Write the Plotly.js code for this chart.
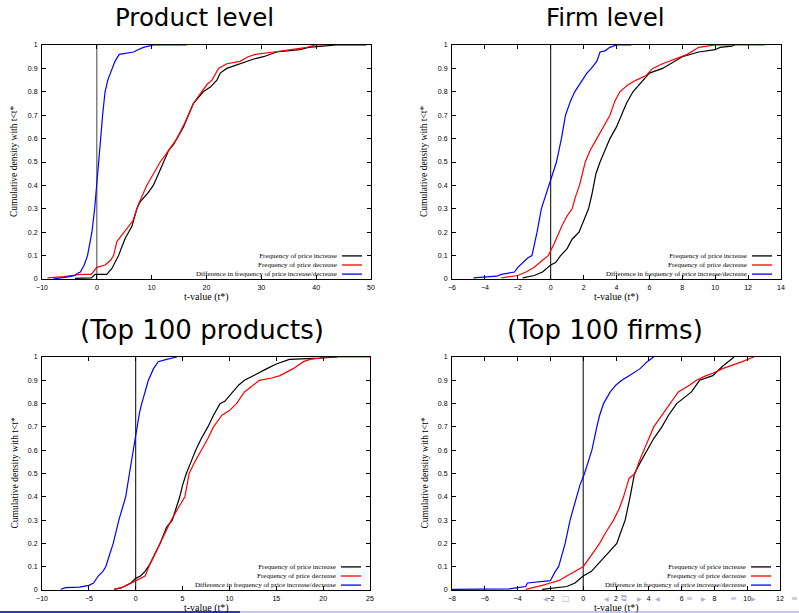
<!DOCTYPE html>
<html>
<head>
<meta charset="utf-8">
<script src="https://cdn.plot.ly/plotly-3.0.1.min.js"></script>
<style>html,body{margin:0;padding:0;background:#fff;}#chart{width:799px;height:613px;}</style>
</head>
<body>
<div id="chart"></div>
<script>
// ---- Data ----
const panelTitles = ["Product level", "Firm level", "(Top 100 products)", "(Top 100 firms)"];
const seriesNames = ["Frequency of price increase", "Frequency of price decrease", "Difference in frequency of price increase/decrease"];
const xTitle = "t-value (t*)";
const yTitle = "Cumulative density with t<t*";

// Panel 1: Product level
const p1IncX = [-4, -1, -0.3, 0, 1.8, 2.75, 3.35, 3.96, 4.6, 5.2, 5.8, 6.4, 7.3, 7.9, 9.4, 10.3, 11.25, 12.2, 13.1, 14.0, 14.6, 15.8, 16.7, 17.6, 19.4, 20.7, 21.9, 22.5, 23.7, 26.1, 28.6, 30.4, 32.8, 37.0, 38.6, 43.7, 49.2];
const p1IncY = [0.003, 0.005, 0.02, 0.02, 0.02, 0.045, 0.075, 0.1, 0.14, 0.175, 0.2, 0.225, 0.3, 0.33, 0.37, 0.4, 0.45, 0.5, 0.55, 0.575, 0.6, 0.65, 0.7, 0.75, 0.8, 0.82, 0.85, 0.88, 0.9, 0.92, 0.94, 0.95, 0.97, 0.98, 0.99, 1.0, 1.0];
const p1DecX = [-9, -6, -3, -1, 0, 1.5, 2.5, 3.05, 3.66, 4.9, 6.6, 7.3, 7.6, 9.1, 10.3, 11.55, 13.1, 14.6, 16.1, 16.7, 17.6, 19.1, 20.05, 21.0, 22.2, 23.7, 26.1, 27.6, 28.9, 32.2, 35.8, 38.3, 39.8, 41.6];
const p1DecY = [0.005, 0.01, 0.02, 0.02, 0.05, 0.06, 0.08, 0.1, 0.16, 0.2, 0.25, 0.3, 0.32, 0.4, 0.45, 0.5, 0.55, 0.6, 0.67, 0.7, 0.75, 0.8, 0.83, 0.85, 0.9, 0.92, 0.93, 0.95, 0.96, 0.97, 0.98, 0.99, 1.0, 1.0];
const p1DifX = [-8, -6, -5, -4, -3.5, -3, -2.3, -1.7, -1.3, -0.9, -0.4, 0, 0.4, 0.7, 1.05, 1.5, 2.0, 2.75, 3.3, 4.1, 5.5, 6.7, 7.5, 8.5, 10.3, 16.4];
const p1DifY = [0, 0.005, 0.01, 0.015, 0.025, 0.03, 0.06, 0.1, 0.15, 0.2, 0.3, 0.4, 0.5, 0.6, 0.7, 0.8, 0.85, 0.9, 0.93, 0.96, 0.965, 0.97, 0.98, 0.99, 1.0, 1.0];

// Panel 2: Firm level
const p2IncX = [-1.7, -1, -0.5, 0, 0.3, 0.6, 1.0, 1.3, 1.72, 2.0, 2.3, 2.5, 2.75, 3.0, 3.3, 3.6, 4.0, 4.3, 4.6, 5.0, 5.6, 6.0, 6.8, 7.5, 8.0, 9.0, 10.0, 10.3, 11.0, 11.2];
const p2IncY = [0.005, 0.015, 0.03, 0.06, 0.07, 0.1, 0.13, 0.17, 0.2, 0.25, 0.3, 0.36, 0.45, 0.5, 0.55, 0.6, 0.65, 0.7, 0.75, 0.8, 0.85, 0.88, 0.9, 0.93, 0.95, 0.97, 0.98, 0.99, 0.995, 1.0];
const p2DecX = [-3, -2.5, -2, -1.5, -1, -0.5, -0.15, 0.2, 0.5, 0.7, 1.0, 1.3, 1.5, 1.75, 2.1, 2.4, 2.8, 3.2, 3.6, 3.9, 4.2, 4.7, 5.2, 5.8, 6.2, 6.8, 7.5, 8.3, 9.0, 10.0, 13.0];
const p2DecY = [0.005, 0.01, 0.015, 0.03, 0.05, 0.08, 0.1, 0.15, 0.2, 0.23, 0.27, 0.3, 0.35, 0.4, 0.5, 0.55, 0.6, 0.65, 0.7, 0.76, 0.8, 0.83, 0.85, 0.87, 0.9, 0.92, 0.94, 0.96, 0.99, 1.0, 1.0];
const p2DifX = [-4.7, -4, -3.3, -3, -2.5, -2.2, -2, -1.7, -1.4, -1.14, -0.97, -0.83, -0.57, -0.3, -0.1, 0.1, 0.35, 0.5, 0.65, 0.9, 1.2, 1.46, 1.9, 2.2, 2.47, 2.8, 3.0, 3.3, 3.6, 4.0, 4.9];
const p2DifY = [0.005, 0.007, 0.012, 0.02, 0.025, 0.03, 0.05, 0.07, 0.09, 0.1, 0.15, 0.2, 0.3, 0.36, 0.4, 0.45, 0.5, 0.55, 0.6, 0.7, 0.76, 0.8, 0.85, 0.88, 0.9, 0.93, 0.97, 0.975, 0.99, 1.0, 1.0];

// Panel 3: Top 100 products
const p3IncX = [-2.3, -1.5, -0.5, 0, 0.5, 1.0, 1.5, 2.0, 2.6, 3.3, 3.9, 4.3, 4.7, 5.0, 5.4, 5.9, 6.4, 7.0, 7.7, 8.3, 9.0, 9.5, 10.4, 11.0, 11.6, 12.5, 14.0, 15.0, 16.4, 19.6, 21.5];
const p3IncY = [0.003, 0.01, 0.03, 0.05, 0.06, 0.08, 0.11, 0.15, 0.2, 0.27, 0.3, 0.35, 0.4, 0.45, 0.5, 0.55, 0.6, 0.65, 0.7, 0.75, 0.8, 0.81, 0.85, 0.88, 0.9, 0.92, 0.95, 0.97, 0.99, 0.995, 1.0];
const p3DecX = [-2.3, -1.5, -1, 0, 0.5, 1.0, 1.4, 2.0, 2.6, 3.2, 3.8, 4.5, 5.25, 5.7, 6.3, 7.0, 7.7, 8.3, 9.2, 10.0, 10.75, 11.6, 12.5, 13.2, 14.5, 15.4, 16.8, 17.9, 18.6, 20.7, 25];
const p3DecY = [0.003, 0.01, 0.02, 0.04, 0.05, 0.06, 0.1, 0.15, 0.2, 0.25, 0.3, 0.35, 0.4, 0.5, 0.55, 0.6, 0.65, 0.7, 0.75, 0.77, 0.8, 0.85, 0.88, 0.9, 0.91, 0.92, 0.95, 0.98, 0.99, 1.0, 1.0];
const p3DifX = [-8, -7.5, -6, -5.5, -5, -4.5, -4, -3.5, -3.2, -2.8, -2.4, -1.8, -1.4, -1.07, -0.67, -0.25, 0.1, 0.4, 0.64, 1.0, 1.35, 1.9, 2.4, 3.3, 4.4];
const p3DifY = [0.003, 0.01, 0.012, 0.015, 0.02, 0.03, 0.06, 0.08, 0.1, 0.15, 0.2, 0.3, 0.35, 0.4, 0.5, 0.6, 0.7, 0.76, 0.8, 0.85, 0.9, 0.95, 0.98, 0.99, 1.0];

// Panel 4: Top 100 firms
const p4IncX = [-2.5, -2, -1, -0.5, 0, 0.5, 1.0, 1.5, 2.05, 2.3, 2.56, 2.86, 3.13, 3.5, 3.88, 4.3, 4.8, 5.2, 5.7, 6.2, 6.6, 7.1, 7.9, 8.5, 8.85, 9.2];
const p4IncY = [0.003, 0.008, 0.015, 0.03, 0.06, 0.08, 0.12, 0.16, 0.2, 0.25, 0.3, 0.4, 0.5, 0.55, 0.6, 0.65, 0.7, 0.75, 0.8, 0.83, 0.85, 0.9, 0.92, 0.96, 0.98, 1.0];
const p4DecX = [-3.5, -3, -2.5, -2, -1.5, -1, -0.5, 0, 0.5, 1.0, 1.4, 1.85, 2.2, 2.46, 2.8, 3.17, 3.4, 3.68, 4.0, 4.3, 4.8, 5.3, 5.8, 6.5, 6.9, 7.5, 7.9, 8.5, 9.4, 9.7, 10.4];
const p4DecY = [0.003, 0.01, 0.02, 0.03, 0.04, 0.06, 0.08, 0.1, 0.15, 0.2, 0.25, 0.3, 0.35, 0.4, 0.48, 0.5, 0.55, 0.6, 0.65, 0.7, 0.75, 0.8, 0.85, 0.88, 0.9, 0.92, 0.93, 0.95, 0.97, 0.98, 1.0];
const p4DifX = [-8, -4.5, -4, -3.5, -3.4, -2.5, -2, -1.7, -1.5, -1.3, -1.1, -0.8, -0.6, -0.4, -0.2, 0.08, 0.3, 0.53, 0.83, 1.0, 1.24, 1.65, 2.0, 2.35, 2.8, 3.47, 3.9, 4.3];
const p4DifY = [0.003, 0.005, 0.01, 0.015, 0.03, 0.035, 0.04, 0.08, 0.1, 0.15, 0.2, 0.3, 0.35, 0.4, 0.45, 0.5, 0.55, 0.6, 0.7, 0.75, 0.8, 0.85, 0.88, 0.9, 0.92, 0.95, 0.98, 1.0];

const xRanges = [[-10, 50], [-6, 14], [-10, 25], [-8, 12]];
const xDticks = [10, 2, 5, 2];
const colors = ["#000000", "#ff0000", "#0000ff"];

// ---- Layout helpers (pixel boxes of the four plot areas) ----
const W = 799, H = 613;
const boxes = [
  {l: 42, r: 371, t: 45, b: 279},
  {l: 452, r: 781, t: 45, b: 279},
  {l: 42, r: 370, t: 357, b: 590},
  {l: 452, r: 780, t: 357, b: 590}
];
const titleCenters = [194, 605, 202, 605];
const titleSizes = [24.5, 24.5, 26, 26];
const px = x => x / W;
const py = y => 1 - y / H;

const panels = [
  [[p1IncX, p1IncY], [p1DecX, p1DecY], [p1DifX, p1DifY]],
  [[p2IncX, p2IncY], [p2DecX, p2DecY], [p2DifX, p2DifY]],
  [[p3IncX, p3IncY], [p3DecX, p3DecY], [p3DifX, p3DifY]],
  [[p4IncX, p4IncY], [p4DecX, p4DecY], [p4DifX, p4DifY]]
];

const traces = [];
const layout = {
  width: W, height: H,
  margin: {l: 0, r: 0, t: 0, b: 0},
  paper_bgcolor: "#ffffff", plot_bgcolor: "#ffffff",
  showlegend: false,
  annotations: [], shapes: []
};

const tickFont = {family: "Liberation Sans, Arial, sans-serif", size: 7, color: "#000"};
const serif = "Liberation Serif, Times New Roman, serif";

panels.forEach((pan, i) => {
  const n = i + 1;
  const xa = "x" + (n === 1 ? "" : n), ya = "y" + (n === 1 ? "" : n);
  const bx = boxes[i];
  // vertical line at t = 0
  layout.shapes.push({type: "line", xref: xa, yref: ya, x0: 0, x1: 0, y0: 0, y1: 1,
    line: {color: i === 0 ? "#444" : "#000", width: 1}, layer: "below"});
  pan.forEach((s, k) => {
    traces.push({x: s[0], y: s[1], type: "scatter", mode: "lines", xaxis: xa, yaxis: ya,
      line: {color: colors[k], width: 1.2}, name: seriesNames[k], hoverinfo: "skip"});
  });
  const axCommon = {showline: true, linecolor: "#000", linewidth: 1, mirror: "ticks",
    ticks: "inside", ticklen: 4, tickcolor: "#000", tickwidth: 1, showgrid: false,
    zeroline: false, tickfont: tickFont, fixedrange: true};
  layout["xaxis" + (n === 1 ? "" : n)] = Object.assign({}, axCommon, {
    domain: [px(bx.l), px(bx.r)], range: xRanges[i], dtick: xDticks[i], tick0: 0,
    anchor: ya, ticklabelstandoff: 2});
  layout["yaxis" + (n === 1 ? "" : n)] = Object.assign({}, axCommon, {
    domain: [py(bx.b), py(bx.t)], range: [0, 1], dtick: 0.1, tick0: 0,
    anchor: xa, ticklabelstandoff: 2});

  // panel title
  layout.annotations.push({xref: "paper", yref: "paper", x: px(titleCenters[i]), y: py(bx.t - 27),
    text: panelTitles[i], showarrow: false, xanchor: "center", yanchor: "middle",
    font: {family: "DejaVu Sans, sans-serif", size: titleSizes[i], color: "#000"}});
  // axis titles
  layout.annotations.push({xref: "paper", yref: "paper", x: px((bx.l + bx.r) / 2), y: py(bx.b + 18),
    text: xTitle, showarrow: false, xanchor: "center", yanchor: "middle",
    font: {family: serif, size: 10, color: "#000"}});
  layout.annotations.push({xref: "paper", yref: "paper", x: px(bx.l - 28), y: py((bx.t + bx.b) / 2),
    text: yTitle, showarrow: false, textangle: -90, xanchor: "center", yanchor: "middle",
    font: {family: serif, size: 9.5, color: "#000"}});
  // key: right-aligned text block with line samples to its right
  const rowGap = 7 * 1.3;
  layout.annotations.push({xref: "paper", yref: "paper", x: px(bx.r - 33), y: py(bx.b - 14),
    text: seriesNames.join("<br>"), align: "right", showarrow: false, xanchor: "right", yanchor: "middle",
    borderpad: 0, font: {family: serif, size: 7, color: "#000"}});
  [-1, 0, 1].forEach((o, k) => {
    const yy = bx.b - 14 + o * rowGap;
    layout.shapes.push({type: "line", xref: "paper", yref: "paper",
      x0: px(bx.r - 29), x1: px(bx.r - 9), y0: py(yy), y1: py(yy),
      line: {color: colors[k], width: 1.3}});
  });
});

// Beamer footer line and navigation symbols
layout.shapes.push({type: "rect", xref: "paper", yref: "paper", x0: 0, x1: px(240), y0: 0, y1: py(611),
  fillcolor: "#3333b3", line: {width: 0}});
layout.shapes.push({type: "rect", xref: "paper", yref: "paper", x0: px(240), x1: 1, y0: 0, y1: py(611),
  fillcolor: "#c8c8ee", line: {width: 0}});
const navGlyphs = [["◀", 545], ["□", 566], ["◀", 606], ["⧉", 624], ["▶", 639], ["◀", 657], ["≡", 689], ["▶", 703], ["≡", 733], ["▶", 753], ["≡", 794]];
navGlyphs.forEach(g => {
  layout.annotations.push({xref: "paper", yref: "paper", x: px(g[1]), y: py(598), text: g[0],
    showarrow: false, xanchor: "center", yanchor: "middle", borderpad: 0,
    font: {family: "DejaVu Sans, sans-serif", size: g[0] === "◀" || g[0] === "▶" ? 6 : 8, color: "#a9acd6"}});
});

Plotly.newPlot("chart", traces, layout, {staticPlot: true, displayModeBar: false});
</script>
</body>
</html>
